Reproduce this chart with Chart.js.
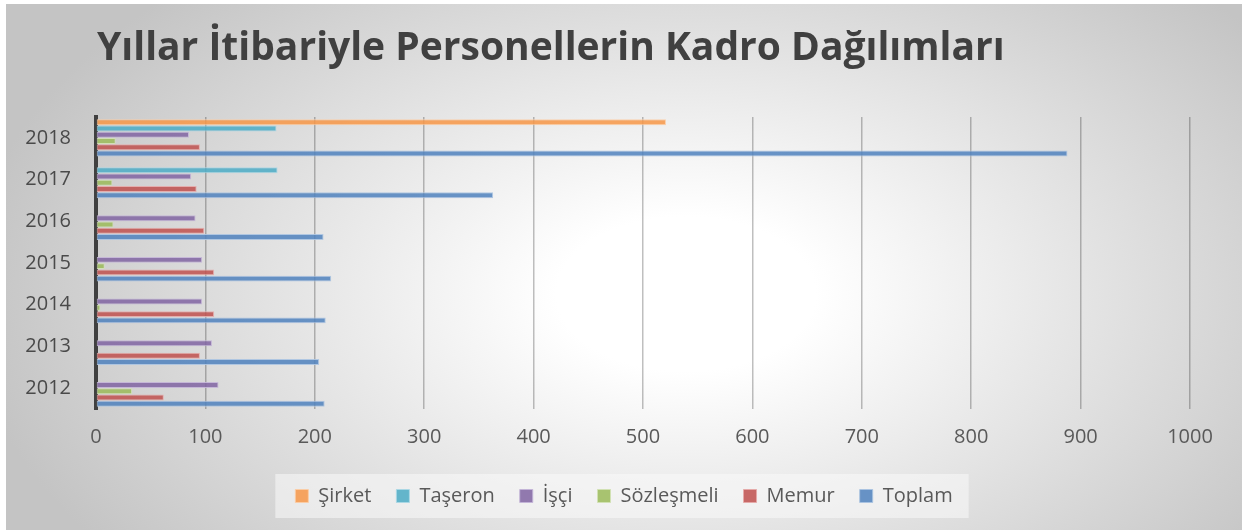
<!DOCTYPE html>
<html>
<head>
<meta charset="utf-8">
<script src="https://cdn.jsdelivr.net/npm/chart.js"></script>
<style>
  body { margin: 0; background: #fff; }
  #wrap {
    position: absolute; left: 6px; top: 4px; width: 1236px; height: 526px;
    background: radial-gradient(ellipse 720px 430px at 680px 290px, #ffffff 0%, #ffffff 18%, #c4c4c4 100%);
  }
</style>
</head>
<body>
<div id="wrap"><canvas id="barChart"></canvas></div>
<script>
// data
const years = ["2018", "2017", "2016", "2015", "2014", "2013", "2012"];
const sirket = [521, null, null, null, null, null, null];
const taseron = [165, 166, null, null, null, null, null];
const isci = [85, 87, 91, 97, 97, 106, 112];
const sozlesmeli = [18, 15, 16, 8, 4, 0, 33];
const memur = [95, 92, 99, 108, 108, 95, 62];
const toplam = [888, 363, 208, 215, 210, 204, 209];
const xTicks = [0, 100, 200, 300, 400, 500, 600, 700, 800, 900, 1000];

const titleText = "Yıllar İtibariyle Personellerin Kadro Dağılımları";

// title drawn at a fixed spot, like the original
const titlePlugin = {
  id: "titleText",
  afterDraw(chart) {
    const c = chart.ctx;
    c.save();
    c.font = "bold 39px 'Open Sans'";
    c.fillStyle = "#404040";
    c.textBaseline = "alphabetic";
    c.fillText(titleText, 91, 56);
    c.restore();
  },
};

// light box behind the legend
const legendBox = {
  id: "legendBox",
  beforeDraw(chart) {
    const boxes = chart.legend.legendHitBoxes;
    if (!boxes || !boxes.length) return;
    let x1 = Infinity, x2 = -Infinity, y1 = Infinity, y2 = -Infinity;
    boxes.forEach((b) => {
      x1 = Math.min(x1, b.left);
      x2 = Math.max(x2, b.left + b.width);
      y1 = Math.min(y1, b.top);
      y2 = Math.max(y2, b.top + b.height);
    });
    const c = chart.ctx;
    c.save();
    c.fillStyle = "rgba(250,250,250,0.55)";
    c.fillRect(x1 - 20, y1 - 12, x2 - x1 + 36, y2 - y1 + 24);
    c.restore();
  },
};

function ds(label, data, fill, edge) {
  return {
    label: label,
    data: data,
    backgroundColor: fill,
    borderColor: edge,
    borderWidth: 1,
    borderSkipped: false,
    categoryPercentage: 0.9,
    barPercentage: 0.95,
  };
}

const ctx = document.getElementById("barChart").getContext("2d");
new Chart(ctx, {
  type: "bar",
  data: {
    labels: years,
    datasets: [
      ds("Şirket", sirket, "rgba(247,150,70,0.85)", "rgba(252,205,165,0.9)"),
      ds("Taşeron", taseron, "rgba(75,172,198,0.85)", "rgba(170,215,228,0.9)"),
      ds("İşçi", isci, "rgba(128,100,162,0.85)", "rgba(195,180,215,0.9)"),
      ds("Sözleşmeli", sozlesmeli, "rgba(155,187,89,0.85)", "rgba(210,225,180,0.9)"),
      ds("Memur", memur, "rgba(192,80,77,0.85)", "rgba(230,170,168,0.9)"),
      ds("Toplam", toplam, "rgba(79,129,189,0.85)", "rgba(170,195,225,0.9)"),
    ],
  },
  options: {
    indexAxis: "y",
    responsive: true,
    maintainAspectRatio: false,
    animation: false,
    layout: {
      padding: { top: 113, left: 0, right: 0, bottom: 14 },
    },
    plugins: {
      title: { display: false },
      tooltip: { enabled: false },
      legend: {
        position: "bottom",
        labels: {
          boxWidth: 13,
          boxHeight: 13,
          padding: 25,
          color: "#595959",
          font: { family: "Open Sans", size: 20 },
        },
      },
    },
    scales: {
      x: {
        min: 0,
        max: 1000,
        afterBuildTicks: (axis) => {
          axis.ticks = xTicks.map((v) => ({ value: v }));
        },
        afterFit: (axis) => {
          axis.height -= 4;
        },
        grid: {
          color: "rgba(0,0,0,0.25)",
          lineWidth: 1.5,
          drawTicks: false,
        },
        border: { display: false },
        ticks: {
          padding: 16,
          color: "#595959",
          font: { family: "Open Sans", size: 20 },
          callback: (v) => String(v),
        },
      },
      y: {
        afterFit: (axis) => {
          axis.width = 90;
        },
        grid: { display: false, drawTicks: false },
        border: { display: true, color: "#404040", width: 4 },
        ticks: {
          padding: 25,
          color: "#4a4a4a",
          font: { family: "Open Sans", size: 20 },
        },
      },
      // empty axis on the right only to keep space there
      yRight: {
        position: "right",
        type: "category",
        afterFit: (axis) => {
          axis.width = 52;
        },
        grid: { display: false, drawTicks: false },
        border: { display: false },
        ticks: { display: false },
      },
    },
  },
  plugins: [titlePlugin, legendBox],
});
</script>
</body>
</html>
